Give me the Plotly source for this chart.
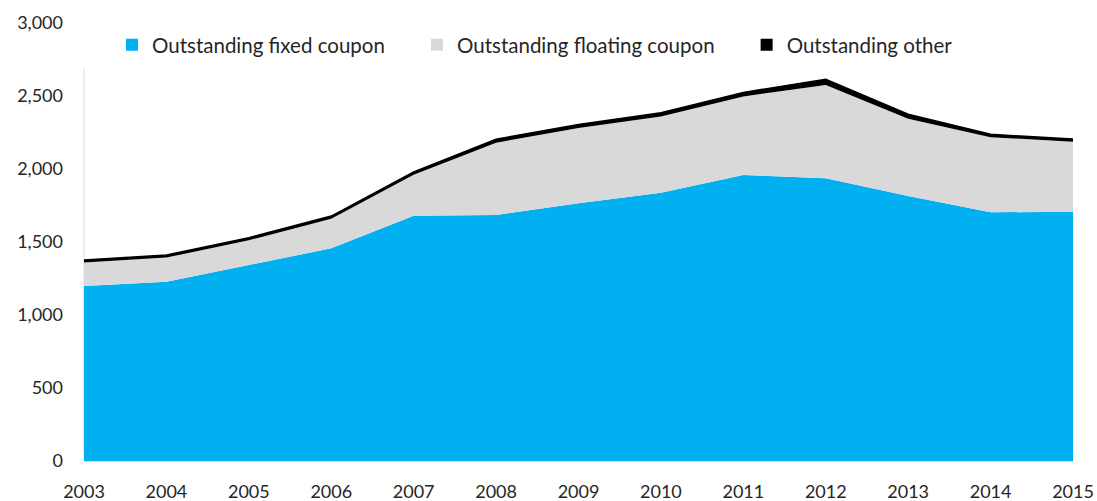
import plotly.graph_objects as go

years = [2003, 2004, 2005, 2006, 2007, 2008, 2009, 2010, 2011, 2012, 2013, 2014, 2015]
fixed_coupon = [1199, 1228, 1342, 1457, 1680, 1685, 1765, 1838, 1959, 1936, 1815, 1703, 1708]
floating_coupon = [160, 165, 170, 203, 280, 495, 515, 522, 538, 639, 530, 515, 479]
other = [18, 18, 18, 18, 20, 25, 25, 25, 28, 40, 30, 20, 18]

series_names = ["Outstanding fixed coupon", "Outstanding floating coupon", "Outstanding other"]
colors = ["#00B0F0", "#D9D9D9", "#000000"]
y_ticks = [0, 500, 1000, 1500, 2000, 2500, 3000]

FONT = "Lato, Carlito, Calibri, sans-serif"
TEXT = "#262626"

fig = go.Figure()

# Stacked areas
for name, vals, col in zip(series_names, [fixed_coupon, floating_coupon, other], colors):
    is_top = col == "#000000"
    fig.add_trace(go.Scatter(
        x=years, y=vals, name=name, stackgroup="one", mode="lines",
        line=dict(color=col, width=1.4 if is_top else 0),
        fillcolor=col, showlegend=False, hoverinfo="x+y+name",
    ))

# Square legend keys, each in its own legend box
legend_ids = ["legend", "legend2", "legend3"]
for name, col, lid in zip(series_names, colors, legend_ids):
    fig.add_trace(go.Scatter(
        x=[None], y=[None], mode="markers", name=name,
        marker=dict(symbol="square", size=12, color=col),
        legend=lid, showlegend=True,
    ))

legend_style = dict(
    orientation="h", yanchor="middle", y=0.95, xanchor="left",
    bgcolor="rgba(0,0,0,0)", borderwidth=0, itemwidth=30,
    font=dict(family=FONT, size=20.5, color=TEXT),
)

fig.update_layout(
    width=1097, height=501,
    margin=dict(l=84, r=24, t=23, b=40),
    paper_bgcolor="white", plot_bgcolor="white",
    font=dict(family=FONT, size=18, color=TEXT),
    legend=dict(x=0.0283, **legend_style),
    legend2=dict(x=0.3367, **legend_style),
    legend3=dict(x=0.670, **legend_style),
    xaxis=dict(
        range=[2003, 2015], tickmode="array", tickvals=years,
        ticktext=[str(y) for y in years],
        showgrid=False, zeroline=False, showline=True,
        linecolor="#D9D9D9", linewidth=1,
        ticks="", ticklabelstandoff=14, automargin=False,
        tickfont=dict(family=FONT, size=18, color=TEXT),
    ),
    yaxis=dict(
        range=[0, 3000], tickmode="array", tickvals=y_ticks,
        ticktext=[f"{v:,}" for v in y_ticks],
        showgrid=False, zeroline=False, showline=False,
        ticks="", ticklabelstandoff=20, automargin=False,
        tickfont=dict(family=FONT, size=18, color=TEXT),
    ),
    shapes=[
        # vertical axis rule, interrupted where the legend sits
        dict(type="line", xref="paper", yref="y", x0=0, x1=0, y0=0, y1=2690,
             line=dict(color="#D9D9D9", width=1), layer="below"),
    ],
)

fig.write_html("out.html")
